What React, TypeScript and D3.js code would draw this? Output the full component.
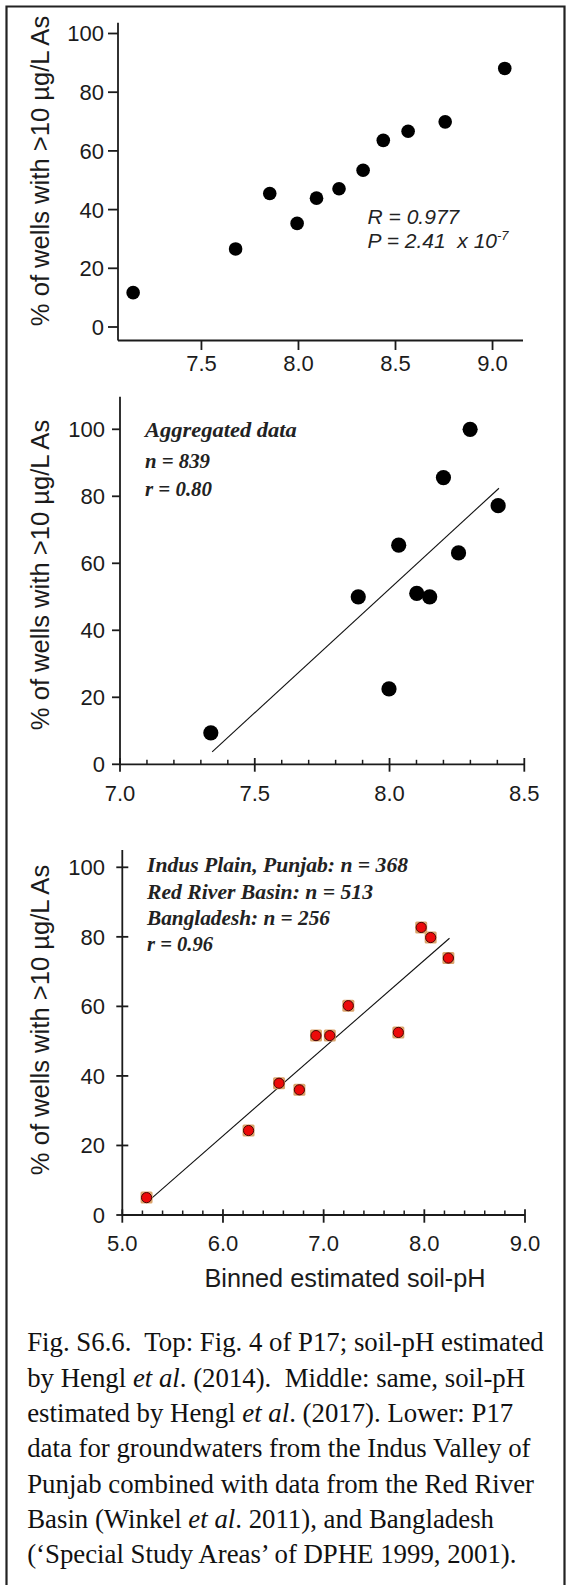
import React from "react";
import * as d3 from "d3";

// ---------- DATA ----------
const yTickValues = [0, 20, 40, 60, 80, 100];

// Top panel (Hengl 2014)
const topPH = [7.148, 7.676, 7.852, 7.993, 8.093, 8.209, 8.333, 8.437, 8.565, 8.756, 9.063];
const topPct = [11.7, 26.6, 45.5, 35.3, 43.9, 47.1, 53.4, 63.6, 66.7, 69.9, 88.1];
const topXTicks = [7.5, 8.0, 8.5, 9.0];

// Middle panel (Hengl 2017, aggregated)
const midPH = [7.337, 7.884, 7.998, 8.034, 8.101, 8.149, 8.2, 8.256, 8.299, 8.403];
const midPct = [9.4, 50.0, 22.5, 65.4, 51.0, 50.0, 85.6, 63.1, 100.0, 77.2];
const midFitPH = [7.342, 8.406];
const midFitPct = [3.7, 82.4];
const midXTicks = [7.0, 7.5, 8.0, 8.5];

// Lower panel (Punjab + Red River + Bangladesh)
const lowPH = [5.241, 6.254, 6.557, 6.759, 6.924, 7.061, 7.245, 7.742, 7.969, 8.063, 8.239];
const lowPct = [5.0, 24.3, 37.9, 36.0, 51.6, 51.6, 60.2, 52.5, 82.7, 79.8, 73.9];
const lowFitPH = [5.27, 8.25];
const lowFitPct = [4.3, 79.6];
const lowXTicks = [5.0, 6.0, 7.0, 8.0, 9.0];

const yLabel = "% of wells with >10 µg/L As";
const xTitle = "Binned estimated soil-pH";
const topNotes = ["R = 0.977", "P = 2.41  x 10"];
const midNotes = ["Aggregated data", "n = 839", "r = 0.80"];
const lowNotes = ["Indus Plain, Punjab: n = 368", "Red River Basin: n = 513", "Bangladesh: n = 256", "r = 0.96"];

type Seg = { t: string; i?: boolean };
const captionLines: Seg[][] = [
  [{ t: "Fig. S6.6.  Top: Fig. 4 of P17; soil-pH estimated" }],
  [{ t: "by Hengl " }, { t: "et al", i: true }, { t: ". (2014).  Middle: same, soil-pH" }],
  [{ t: "estimated by Hengl " }, { t: "et al", i: true }, { t: ". (2017). Lower: P17" }],
  [{ t: "data for groundwaters from the Indus Valley of" }],
  [{ t: "Punjab combined with data from the Red River" }],
  [{ t: "Basin (Winkel " }, { t: "et al", i: true }, { t: ". 2011), and Bangladesh" }],
  [{ t: "(\u2018Special Study Areas\u2019 of DPHE 1999, 2001)." }],
];

// ---------- STYLE ----------
const SANS = "'Liberation Sans', Arial, Helvetica, sans-serif";
const SERIF = "'Liberation Serif', 'Times New Roman', serif";
const INK = "#1b1b1b";
const AXW = 1.8;
const fmt = d3.format(".1f");

export default function App() {
  // scales
  const x1 = d3.scaleLinear().domain([7.07, 9.157]).range([118, 523]);
  const y1 = d3.scaleLinear().domain([0, 100]).range([327, 33.5]);
  const x2 = d3.scaleLinear().domain([7.0, 8.5]).range([120, 524.3]);
  const y2 = d3.scaleLinear().domain([0, 100]).range([764.3, 429.3]);
  const x3 = d3.scaleLinear().domain([5.0, 9.0]).range([122.3, 525]);
  const y3 = d3.scaleLinear().domain([0, 100]).range([1215, 867.3]);

  const fitLine = d3.line<[number, number]>();

  const yLabelEl = (cy: number) => (
    <text
      transform={`translate(49,${cy}) rotate(-90)`}
      textAnchor="middle"
      fontFamily={SANS}
      fontSize={25.6}
      fill={INK}
    >
      {yLabel}
    </text>
  );

  const yTicksEl = (y: d3.ScaleLinear<number, number>, axisX: number, left: number, right: number, labelRight: number) =>
    yTickValues.map((v) => (
      <g key={v}>
        <line x1={axisX - left} x2={axisX + right} y1={y(v)} y2={y(v)} stroke={INK} strokeWidth={AXW} />
        <text x={labelRight} y={y(v)} dy="0.36em" textAnchor="end" fontFamily={SANS} fontSize={22} fill={INK}>
          {v}
        </text>
      </g>
    ));

  const minor = (lo: number, hi: number, step: number, major: number[]) =>
    d3.range(Math.round((hi - lo) / step) + 1)
      .map((i) => +(lo + i * step).toFixed(3))
      .filter((v) => !major.some((m) => Math.abs(m - v) < 1e-6));

  // bottom markers
  const sq = 12;

  return (
    <svg
      width={567}
      height={1585}
      viewBox="0 0 567 1585"
      style={{ position: "absolute", left: 0, top: 0, display: "block", background: "#fff" }}
    >
      <rect x={0} y={0} width={567} height={1585} fill="#fff" />
      {/* frame */}
      <path d="M6.5,1590 V6.5 H564.5 V1590" fill="none" stroke="#222" strokeWidth={2.2} />

      {/* ================= TOP PANEL ================= */}
      {yLabelEl(171)}
      <line x1={118} x2={118} y1={22.7} y2={340.5} stroke={INK} strokeWidth={AXW} />
      <line x1={118} x2={523} y1={340.5} y2={340.5} stroke={INK} strokeWidth={AXW} />
      {yTicksEl(y1, 118, 10, 0, 104)}
      {topXTicks.map((v) => (
        <g key={v}>
          <line x1={x1(v)} x2={x1(v)} y1={340.5} y2={350} stroke={INK} strokeWidth={AXW} />
          <text x={x1(v)} y={370.5} textAnchor="middle" fontFamily={SANS} fontSize={22} fill={INK}>
            {fmt(v)}
          </text>
        </g>
      ))}
      {topPH.map((p, i) => (
        <circle key={i} cx={x1(p)} cy={y1(topPct[i])} r={6.8} fill="#000" />
      ))}
      <text x={367.6} y={224} fontFamily={SANS} fontStyle="italic" fontSize={21} fill="#222">
        {topNotes[0]}
      </text>
      <text x={367.6} y={247.5} fontFamily={SANS} fontStyle="italic" fontSize={21} fill="#222" style={{ whiteSpace: "pre" }}>
        {topNotes[1]}
        <tspan dy={-8} fontSize={13}>-7</tspan>
      </text>

      {/* ================= MIDDLE PANEL ================= */}
      {yLabelEl(575)}
      <line x1={120} x2={120} y1={396.7} y2={764.3} stroke={INK} strokeWidth={AXW} />
      <line x1={120} x2={524.3} y1={764.3} y2={764.3} stroke={INK} strokeWidth={AXW} />
      {yTicksEl(y2, 120, 8, 0, 105)}
      {minor(7.0, 8.5, 0.1, midXTicks).map((v) => (
        <line key={v} x1={x2(v)} x2={x2(v)} y1={764.3} y2={759.8} stroke={INK} strokeWidth={1.5} />
      ))}
      {midXTicks.map((v) => (
        <g key={v}>
          <line x1={x2(v)} x2={x2(v)} y1={758} y2={771.7} stroke={INK} strokeWidth={AXW} />
          <text x={x2(v)} y={800.5} textAnchor="middle" fontFamily={SANS} fontSize={22} fill={INK}>
            {fmt(v)}
          </text>
        </g>
      ))}
      <path
        d={fitLine(midFitPH.map((p, i) => [x2(p), y2(midFitPct[i])] as [number, number])) || ""}
        stroke="#111"
        strokeWidth={1.1}
        fill="none"
      />
      {midPH.map((p, i) => (
        <circle key={i} cx={x2(p)} cy={y2(midPct[i])} r={7.6} fill="#000" />
      ))}
      {midNotes.map((t, i) => (
        <text
          key={t}
          x={145}
          y={[437, 468, 495.5][i]}
          fontFamily={SERIF}
          fontStyle="italic"
          fontWeight="bold"
          fontSize={21.5}
          fill="#222"
          textLength={[151.7, 65, 67][i]}
          lengthAdjust="spacingAndGlyphs"
        >
          {t}
        </text>
      ))}

      {/* ================= LOWER PANEL ================= */}
      {yLabelEl(1020)}
      <line x1={122.3} x2={122.3} y1={850} y2={1215} stroke={INK} strokeWidth={AXW} />
      <line x1={122.3} x2={525} y1={1215} y2={1215} stroke={INK} strokeWidth={AXW} />
      {yTicksEl(y3, 122.3, 6, 6, 105)}
      {minor(5.0, 9.0, 0.2, lowXTicks).map((v) => (
        <line key={v} x1={x3(v)} x2={x3(v)} y1={1215} y2={1210.5} stroke={INK} strokeWidth={1.5} />
      ))}
      {lowXTicks.map((v) => (
        <g key={v}>
          <line x1={x3(v)} x2={x3(v)} y1={1209.3} y2={1222.7} stroke={INK} strokeWidth={AXW} />
          <text x={x3(v)} y={1250.7} textAnchor="middle" fontFamily={SANS} fontSize={22} fill={INK}>
            {fmt(v)}
          </text>
        </g>
      ))}
      <text x={345} y={1287} textAnchor="middle" fontFamily={SANS} fontSize={25.3} fill={INK}>
        {xTitle}
      </text>
      <path
        d={fitLine(lowFitPH.map((p, i) => [x3(p), y3(lowFitPct[i])] as [number, number])) || ""}
        stroke="#111"
        strokeWidth={1.1}
        fill="none"
      />
      {lowPH.map((p, i) => (
        <g key={i}>
          <rect
            x={x3(p) - sq / 2}
            y={y3(lowPct[i]) - sq / 2}
            width={sq}
            height={sq}
            rx={1.5}
            fill="#dba46c"
          />
          <circle cx={x3(p)} cy={y3(lowPct[i])} r={5.1} fill="#ec0a0a" stroke="#4a0505" strokeWidth={1} />
        </g>
      ))}
      {lowNotes.map((t, i) => (
        <text
          key={t}
          x={147}
          y={[872, 898.7, 924.5, 950.5][i]}
          fontFamily={SERIF}
          fontStyle="italic"
          fontWeight="bold"
          fontSize={21.5}
          fill="#222"
          textLength={[261, 226, 183, 66][i]}
          lengthAdjust="spacingAndGlyphs"
        >
          {t}
        </text>
      ))}

      {/* ================= CAPTION ================= */}
      {captionLines.map((segs, li) => (
        <text
          key={li}
          x={27.2}
          y={1351.3 + li * 35.3}
          fontFamily={SERIF}
          fontSize={26.8}
          fill="#111"
          style={{ whiteSpace: "pre" }}
        >
          {segs.map((s, si) => (
            <tspan key={si} fontStyle={s.i ? "italic" : "normal"}>
              {s.t}
            </tspan>
          ))}
        </text>
      ))}
    </svg>
  );
}
